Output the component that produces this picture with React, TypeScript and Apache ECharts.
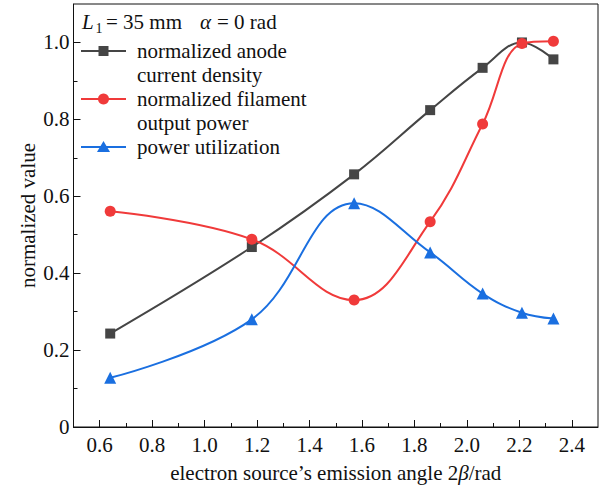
import React, { useEffect, useRef } from "react";
import * as echarts from "echarts";

const xValues = [0.64, 1.18, 1.57, 1.86, 2.06, 2.21, 2.33];
const anodeCurrent = [0.243, 0.468, 0.657, 0.824, 0.934, 1.0, 0.956];
const filamentPower = [0.561, 0.488, 0.33, 0.534, 0.788, 0.997, 1.003];
const powerUtil = [0.128, 0.28, 0.582, 0.454, 0.347, 0.297, 0.282];

const xMajorTicks = [0.6, 0.8, 1.0, 1.2, 1.4, 1.6, 1.8, 2.0, 2.2, 2.4];
const xMinorTicks = [0.7, 0.9, 1.1, 1.3, 1.5, 1.7, 1.9, 2.1, 2.3];
const yMajorTicks = [0, 0.2, 0.4, 0.6, 0.8, 1.0];
const yMinorTicks = [0.1, 0.3, 0.5, 0.7, 0.9];

const seriesNames = [
  "normalized anode\ncurrent density",
  "normalized filament\noutput power",
  "power utilization",
];
const colors = ["#454545", "#f03a3a", "#1a6fe0"];
const symbols = ["rect", "circle", "triangle"];
const symbolSizes = [10, 11, 12];

const FONT = "Liberation Serif";
const TXT = "#111";

function txt(text: string, x: number, y: number, size: number, italic = false, extra: any = {}) {
  return {
    type: "text",
    x,
    y,
    style: {
      text,
      fontFamily: FONT,
      fontSize: size,
      fontStyle: italic ? "italic" : "normal",
      fill: TXT,
      textVerticalAlign: "middle",
      ...extra,
    },
  };
}

export default function App() {
  const ref = useRef<HTMLDivElement>(null);
  useEffect(() => {
    if (!ref.current) return;
    const chart = echarts.init(ref.current, null, { renderer: "svg" });
    const seriesData = [anodeCurrent, filamentPower, powerUtil];
    const series = seriesData.map((vals, i) => ({
      name: seriesNames[i],
      type: "line",
      smooth: 0.4,
      data: xValues.map((x, k) => [x, vals[k]]),
      symbol: symbols[i],
      symbolSize: symbolSizes[i],
      showSymbol: true,
      lineStyle: { color: colors[i], width: 2 },
      itemStyle: { color: colors[i] },
      z: 3,
    }));

    const legendX0 = 81;
    const legendX1 = 126;
    const textX = 137;
    const legendYs = [51, 99, 147];
    const legendGraphics: any[] = [];
    seriesNames.forEach((name, i) => {
      const y = legendYs[i];
      legendGraphics.push({
        type: "line",
        shape: { x1: legendX0, y1: y, x2: legendX1, y2: y },
        style: { stroke: colors[i], lineWidth: 2 },
      });
      const cx = (legendX0 + legendX1) / 2;
      if (symbols[i] === "rect") {
        legendGraphics.push({
          type: "rect",
          shape: { x: cx - 5, y: y - 5, width: 10, height: 10 },
          style: { fill: colors[i] },
        });
      } else if (symbols[i] === "circle") {
        legendGraphics.push({
          type: "circle",
          shape: { cx, cy: y, r: 5.5 },
          style: { fill: colors[i] },
        });
      } else {
        legendGraphics.push({
          type: "polygon",
          shape: {
            points: [
              [cx, y - 6],
              [cx + 6.5, y + 5],
              [cx - 6.5, y + 5],
            ],
          },
          style: { fill: colors[i] },
        });
      }
      name.split("\n").forEach((line, j) => {
        legendGraphics.push(txt(line, textX, y + j * 24, 21));
      });
    });

    const titleY = 22;
    const titleGraphics = [
      txt("L", 82, titleY, 21, true),
      txt("1", 95.5, titleY + 6, 14),
      txt("= 35 mm", 106, titleY, 21),
      txt("α", 200, titleY, 21, true),
      txt("= 0 rad", 217, titleY, 21),
    ];

    const option: any = {
      animation: false,
      backgroundColor: "#ffffff",
      textStyle: { fontFamily: FONT },
      grid: {
        left: 73.5,
        top: 4,
        right: 6,
        bottom: 61,
        show: true,
        borderColor: "#111",
        borderWidth: 1,
        backgroundColor: "transparent",
      },
      xAxis: [
        {
          type: "value",
          min: 0.5,
          max: 2.5,
          name: "electron source’s emission angle 2{b|β}/rad",
          nameLocation: "middle",
          nameGap: 35,
          nameMoveOverlap: false,
          nameTextStyle: {
            fontSize: 21,
            fontFamily: FONT,
            color: TXT,
            rich: { b: { fontSize: 21, fontFamily: FONT, fontStyle: "italic", color: TXT } },
          },
          axisLine: { show: true, lineStyle: { color: TXT, width: 1 } },
          axisTick: { show: true, inside: true, length: 7, customValues: xMajorTicks, lineStyle: { color: TXT } },
          axisLabel: {
            customValues: xMajorTicks,
            formatter: (v: number) => v.toFixed(1),
            fontSize: 21,
            fontFamily: FONT,
            color: TXT,
            margin: 7,
          },
          splitLine: { show: false },
        },
        {
          type: "value",
          min: 0.5,
          max: 2.5,
          position: "bottom",
          axisLine: { show: false },
          axisTick: { show: true, inside: true, length: 4, customValues: xMinorTicks, lineStyle: { color: TXT } },
          axisLabel: { show: false },
          splitLine: { show: false },
        },
      ],
      yAxis: [
        {
          type: "value",
          min: 0,
          max: 1.1,
          name: "normalized value",
          nameLocation: "middle",
          nameGap: 35,
          nameMoveOverlap: false,
          nameTextStyle: { fontSize: 21, fontFamily: FONT, color: TXT },
          axisLine: { show: true, lineStyle: { color: TXT, width: 1 } },
          axisTick: { show: true, inside: true, length: 7, customValues: yMajorTicks, lineStyle: { color: TXT } },
          axisLabel: {
            customValues: yMajorTicks,
            formatter: (v: number) => (v === 0 ? "0" : v.toFixed(1)),
            fontSize: 21,
            fontFamily: FONT,
            color: TXT,
            margin: 4,
          },
          splitLine: { show: false },
        },
        {
          type: "value",
          min: 0,
          max: 1.1,
          position: "left",
          axisLine: { show: false },
          axisTick: { show: true, inside: true, length: 4, customValues: yMinorTicks, lineStyle: { color: TXT } },
          axisLabel: { show: false },
          splitLine: { show: false },
        },
      ],
      series,
      graphic: [...titleGraphics, ...legendGraphics],
    };
    chart.setOption(option);
    return () => chart.dispose();
  }, []);
  return <div ref={ref} style={{ width: 604, height: 488, position: "absolute", left: 0, top: 0 }} />;
}
